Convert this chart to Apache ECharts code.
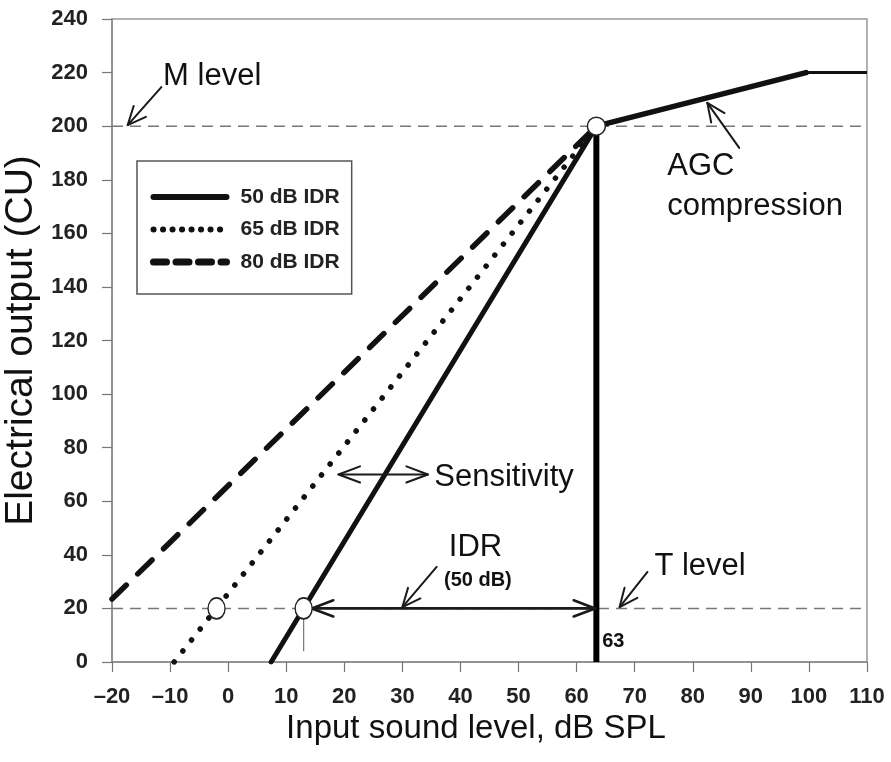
<!DOCTYPE html>
<html>
<head>
<meta charset="utf-8">
<script src="https://cdn.jsdelivr.net/npm/echarts@6/dist/echarts.min.js"></script>
<style>
html,body{margin:0;padding:0;background:#fff;}
#chart{width:891px;height:762px;}
</style>
</head>
<body>
<div id="chart"></div>
<script>
// ---- data ----
const xTicks = [-20, -10, 0, 10, 20, 30, 40, 50, 60, 70, 80, 90, 100, 110];
const yTicks = [0, 20, 40, 60, 80, 100, 120, 140, 160, 180, 200, 220, 240];
const seriesNames = ['50 dB IDR', '65 dB IDR', '80 dB IDR'];
const idr50 = [[7.4, 0], [63.4, 200]];
const idr65 = [[-9.3, 0], [63.4, 200]];
const idr80 = [[-20, 23.5], [63.4, 200]];
const agcSlope = [[63.4, 200], [99.5, 220]];
const agcFlat = [[99.5, 220], [110, 220]];
const mLevel = [[-20, 200], [110, 200]];
const tLevel = [[-20, 20], [110, 20]];
const kneeLine = [[63.4, 0], [63.4, 200]];
const thresholdTick = [[13, 20], [13, 4]];
const openPoints = [[63.4, 200], [-2, 20], [13, 20]];
// arrows: [x0, y0, x1, y1, doubleHeaded]
const arrows = [
  [-11.5, 214.6, -17.3, 200.4, 0],
  [88.0, 191.9, 82.5, 208.7, 0],
  [35.9, 35.5, 30.0, 20.5, 0],
  [72.2, 33.6, 67.4, 20.5, 0],
  [19.0, 70, 34.4, 70, 1],
  [14.4, 20, 63.2, 20, 1]
];
const labelTexts = ['M level', 'AGC', 'compression', 'Sensitivity', 'IDR', '(50 dB)', 'T level', '63'];
const labelPos = [[-11.2, 218.4], [75.6, 184.8], [75.6, 170.2], [35.5, 69], [42.6, 42.6], [43.0, 30.6], [73.4, 35.8], [64.4, 7.8]];

// ---- chart ----
const sans = "'Liberation Sans',Arial,sans-serif";
const chart = echarts.init(document.getElementById('chart'), null, {renderer: 'canvas'});

const labelStyles = [
  {font: `31px ${sans}`, align: 'left'},
  {font: `31px ${sans}`, align: 'left'},
  {font: `31px ${sans}`, align: 'left'},
  {font: `31px ${sans}`, align: 'left'},
  {font: `31px ${sans}`, align: 'center'},
  {font: `bold 20px ${sans}`, align: 'center'},
  {font: `31px ${sans}`, align: 'left'},
  {font: `bold 20px ${sans}`, align: 'left'}
];

function head(tip, from, len, ang) {
  const a = Math.atan2(tip[1] - from[1], tip[0] - from[0]);
  return [
    [tip[0] - len * Math.cos(a - ang), tip[1] - len * Math.sin(a - ang)],
    [tip[0], tip[1]],
    [tip[0] - len * Math.cos(a + ang), tip[1] - len * Math.sin(a + ang)]
  ];
}

const hideSym = {opacity: 0, color: 'transparent', borderWidth: 0};

const option = {
  animation: false,
  backgroundColor: '#fff',
  grid: {left: 112, top: 19, width: 755, height: 643, outerBoundsMode: 'none', containLabel: false,
    show: true, borderColor: '#999', borderWidth: 1.5},
  legend: {
    show: true,
    orient: 'vertical',
    left: 137, top: 161,
    padding: [24, 12, 20, 13],
    itemWidth: 73, itemHeight: 14, itemGap: 8.5,
    borderColor: '#555', borderWidth: 1.5,
    selectedMode: false,
    textStyle: {fontFamily: sans, fontWeight: 'bold', fontSize: 21, color: '#222', lineHeight: 24, padding: [0, 0, 0, 9]},
    data: [
      {name: seriesNames[0], itemStyle: hideSym, lineStyle: {width: 6, cap: 'round', type: 'solid'}},
      {name: seriesNames[1], itemStyle: hideSym, lineStyle: {width: 6, cap: 'round', type: [0.1, 9.4]}},
      {name: seriesNames[2], itemStyle: hideSym, lineStyle: {width: 7, cap: 'round', type: [13, 9.5]}}
    ]
  },
  xAxis: {
    type: 'value', min: -20, max: 110, interval: 10,
    axisLine: {show: true, onZero: false, lineStyle: {color: '#888', width: 1.5}},
    axisTick: {show: true, length: 10, lineStyle: {color: '#777', width: 1.2}},
    splitLine: {show: false},
    axisLabel: {margin: 24, fontFamily: sans, fontWeight: 'bold', fontSize: 22, color: '#222',
      formatter: v => xTicks.includes(v) ? String(v).replace('-', '\u2013') : ''},
    name: 'Input sound level, dB SPL', nameLocation: 'middle', nameGap: 36,
    nameTextStyle: {fontFamily: sans, fontSize: 33, color: '#111', padding: [0, 27, 0, 0]}
  },
  yAxis: {
    type: 'value', min: 0, max: 240, interval: 20,
    axisLine: {show: true, onZero: false, lineStyle: {color: '#888', width: 1.5}},
    axisTick: {show: true, length: 10, lineStyle: {color: '#777', width: 1.2}},
    splitLine: {show: false},
    axisLabel: {margin: 24, fontFamily: sans, fontWeight: 'bold', fontSize: 22, color: '#222',
      formatter: v => yTicks.includes(v) ? String(v) : ''},
    name: 'Electrical output (CU)', nameLocation: 'middle', nameGap: 56,
    nameTextStyle: {fontFamily: sans, fontSize: 39, color: '#111'}
  },
  series: [
    {type: 'line', data: mLevel, symbol: 'none', silent: true, z: 1,
      lineStyle: {color: '#777', width: 1.5, type: [11, 7]}},
    {type: 'line', data: tLevel, symbol: 'none', silent: true, z: 1,
      lineStyle: {color: '#777', width: 1.5, type: [11, 7]}},
    {type: 'line', data: thresholdTick, symbol: 'none', silent: true, z: 1,
      lineStyle: {color: '#777', width: 1.2}},
    {name: seriesNames[0], type: 'line', data: idr50, symbol: 'none', z: 3, color: '#111',
      lineStyle: {color: '#111', width: 5, cap: 'round'}},
    {name: seriesNames[1], type: 'line', data: idr65, symbol: 'none', z: 3, color: '#111',
      lineStyle: {color: '#111', width: 5.5, cap: 'round', type: [0.1, 13.9]}},
    {name: seriesNames[2], type: 'line', data: idr80, symbol: 'none', z: 3, color: '#111',
      lineStyle: {color: '#111', width: 5.5, cap: 'round', type: [20, 16]}},
    {type: 'line', data: agcSlope, symbol: 'none', z: 3,
      lineStyle: {color: '#111', width: 5.5, cap: 'round'}},
    {type: 'line', data: agcFlat, symbol: 'none', z: 3,
      lineStyle: {color: '#111', width: 3}},
    {type: 'line', data: kneeLine, symbol: 'none', z: 4,
      lineStyle: {color: '#000', width: 6}},
    {type: 'custom', z: 5, silent: true, data: arrows,
      encode: {x: [0, 2], y: [1, 3]},
      renderItem: function (params, api) {
        const p0 = api.coord([api.value(0), api.value(1)]);
        const p1 = api.coord([api.value(2), api.value(3)]);
        const both = api.value(4) === 1;
        const isSpan = params.dataIndex >= 4;
        const lw = params.dataIndex === 5 ? 2.6 : 2;
        const len = isSpan ? 23 : 20;
        const ang = isSpan ? 0.36 : 0.42;
        const st = {stroke: '#1a1a1a', lineWidth: lw, fill: null, lineCap: 'round', lineJoin: 'round'};
        const ch = [{type: 'line', shape: {x1: p0[0], y1: p0[1], x2: p1[0], y2: p1[1]}, style: st},
          {type: 'polyline', shape: {points: head(p1, p0, len, ang)}, style: st}];
        if (both) ch.push({type: 'polyline', shape: {points: head(p0, p1, len, ang)}, style: st});
        return {type: 'group', children: ch};
      }},
    {type: 'scatter', data: openPoints, z: 6, silent: true,
      symbol: 'circle',
      symbolSize: (v, p) => p.dataIndex === 0 ? [18, 18] : [17, 21],
      itemStyle: {color: '#fff', borderColor: '#222', borderWidth: 1.5, opacity: 1}},
    {type: 'custom', z: 7, silent: true, data: labelPos,
      encode: {x: 0, y: 1},
      renderItem: function (params, api) {
        const p = api.coord([api.value(0), api.value(1)]);
        const s = labelStyles[params.dataIndex];
        return {type: 'text', x: p[0], y: p[1],
          style: {text: labelTexts[params.dataIndex], font: s.font, fill: '#111', align: s.align, verticalAlign: 'middle'}};
      }}
  ]
};
chart.setOption(option);
</script>
</body>
</html>
